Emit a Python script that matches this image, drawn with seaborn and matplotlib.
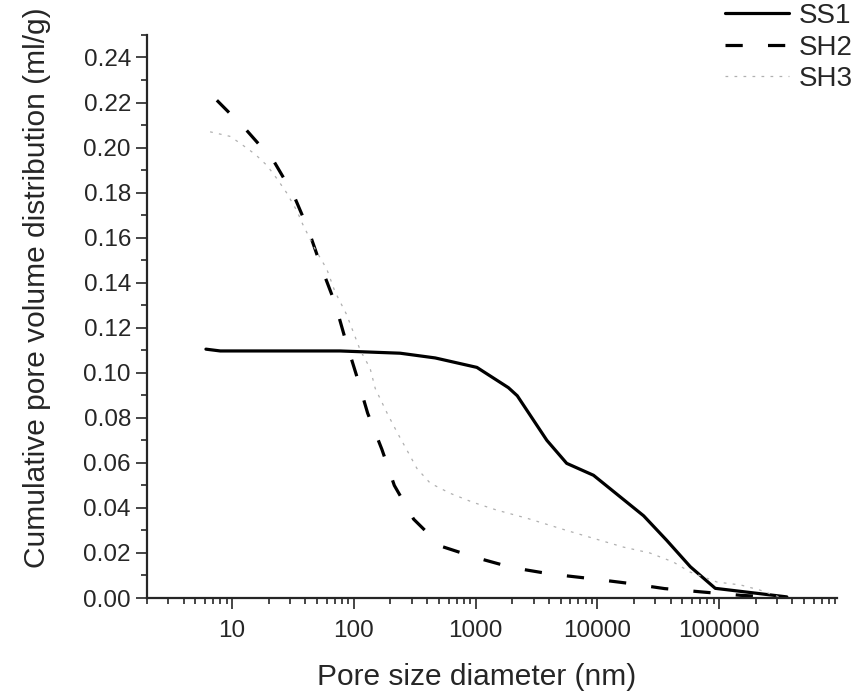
import numpy as np
import pandas as pd
import matplotlib
matplotlib.use("Agg")
import matplotlib.pyplot as plt
from matplotlib.ticker import MultipleLocator, LogLocator, FixedLocator, FuncFormatter, NullFormatter
import seaborn as sns

# Cumulative intrusion curves (pore diameter in nm, volume in ml/g)
ss1_d = [6.1, 8, 20, 77, 240, 466, 1025, 1860, 2200, 3850, 5600, 9300,
         24000, 37000, 58000, 93000, 360000]
ss1_v = [0.1105, 0.1097, 0.1097, 0.1097, 0.1087, 0.1066, 0.1024, 0.0934,
         0.0898, 0.0700, 0.0598, 0.0545, 0.0365, 0.0257, 0.0139, 0.0043, 0.0005]

sh2_d = [7.5, 13, 22, 32, 42, 54, 70, 85, 105, 130, 170, 215, 310, 520,
         1000, 2000, 4200, 8600, 17600, 35500, 72000, 150000, 300000]
sh2_v = [0.221, 0.208, 0.194, 0.179, 0.164, 0.147, 0.131, 0.115, 0.099,
         0.082, 0.066, 0.050, 0.035, 0.023, 0.018, 0.0135, 0.0106, 0.0087,
         0.0066, 0.0042, 0.0027, 0.0012, 0.0003]

sh3_d = [6.6, 9.6, 11.6, 15.5, 19.4, 23.5, 28, 34, 38, 48, 60, 70, 87,
         113, 136, 150, 188, 227, 274, 330, 424, 618, 950, 1500, 2650, 5600,
         9300, 16400, 27000, 42000, 58000, 96000, 150000, 217000, 330000]
sh3_v = [0.207, 0.205, 0.202, 0.197, 0.192, 0.186, 0.180, 0.172, 0.166,
         0.155, 0.146, 0.136, 0.126, 0.110, 0.102, 0.093, 0.082, 0.0735,
         0.0655, 0.0575, 0.051, 0.0465, 0.0425, 0.039, 0.0354, 0.030, 0.0265,
         0.0226, 0.020, 0.016, 0.0115, 0.0071, 0.0058, 0.0035, 0.0]

samples = ["SS1", "SH2", "SH3"]
x_major = [10, 100, 1000, 10000, 100000]

frames = []
for name, d, v in zip(samples, [ss1_d, sh2_d, sh3_d], [ss1_v, sh2_v, sh3_v]):
    frames.append(pd.DataFrame({"d": d, "v": v, "sample": name}))
df = pd.concat(frames, ignore_index=True)

sns.set_style("ticks")
plt.rcParams["font.family"] = ["Liberation Sans", "DejaVu Sans"]

fig = plt.figure(figsize=(8.63, 6.94), dpi=100)
ax = fig.add_axes([0.1703, 0.1383, 0.7996, 0.8113])

palette = {"SS1": "black", "SH2": "black", "SH3": "#b0b0b0"}
dashes = {"SS1": "", "SH2": (5.4, 7.9), "SH3": (2.2, 5.0)}
sizes = {"SS1": 2.3, "SH2": 2.3, "SH3": 0.9}

sns.lineplot(data=df, x="d", y="v", hue="sample", style="sample", size="sample",
             hue_order=samples, style_order=samples, size_order=samples,
             palette=palette, dashes=dashes, sizes=sizes,
             sort=False, estimator=None, legend=False, ax=ax)

ax.set_xscale("log")
ax.set_xlim(2, 9.3e5)
ax.set_ylim(0, 0.25)

ax.xaxis.set_major_locator(FixedLocator(x_major))
ax.xaxis.set_major_formatter(FuncFormatter(lambda val, pos: f"{val:.0f}"))
ax.xaxis.set_minor_locator(LogLocator(base=10, subs=np.arange(2, 10), numticks=20))
ax.xaxis.set_minor_formatter(NullFormatter())

ax.yaxis.set_major_locator(MultipleLocator(0.02))
ax.yaxis.set_minor_locator(MultipleLocator(0.01))
ax.yaxis.set_major_formatter(FuncFormatter(lambda val, pos: f"{val:.2f}"))

sns.despine(ax=ax)
for s in ["left", "bottom"]:
    ax.spines[s].set_linewidth(1.6)
ax.tick_params(which="major", direction="out", length=8, width=1.2, labelsize=17.5)
ax.tick_params(axis="x", which="major", pad=8)
ax.tick_params(axis="y", which="major", pad=3.5)
ax.tick_params(which="minor", direction="out", length=4, width=1.2)

ax.set_xlabel("Pore size diameter (nm)", fontsize=21.5)
ax.set_ylabel("Cumulative pore volume distribution (ml/g)", fontsize=21.5)
ax.xaxis.set_label_coords(0.478, -0.1155)
ax.yaxis.set_label_coords(-0.139, 0.552)

handles = ax.get_lines()[:3]
fig.legend(handles, samples, loc="upper left", bbox_to_anchor=(725 / 863, 1 - 3 / 694),
           frameon=False, fontsize=20, handlelength=2.3, handletextpad=0.35,
           labelspacing=0.2, borderpad=0.0, borderaxespad=0.0)

fig.savefig("out.png", dpi=100)
